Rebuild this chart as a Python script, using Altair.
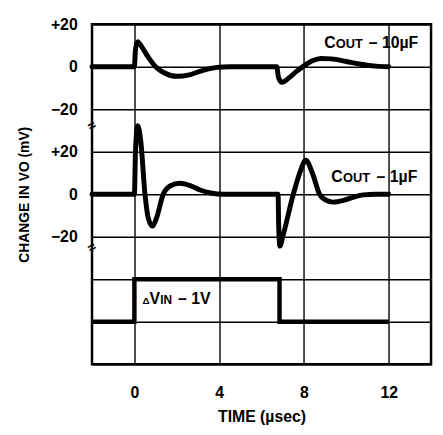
import altair as alt
import pandas as pd

FONT = "Liberation Sans, Arial, sans-serif"

# ---- data ----
# COUT = 10uF response (time in usec, change in mV)
t10 = [-2, 0.0, 0.05, 0.15, 0.4, 0.7, 1.0, 1.4, 2.0, 2.6, 3.2, 3.9, 4.5,
       6.72, 6.8, 6.96, 7.3, 7.65, 8.0, 8.4, 8.8, 9.3, 10.0, 10.7, 11.4, 12.0]
v10 = [0, 0, 8, 11.8, 8.5, 3.8, 0, -2.8, -4.5, -3.8, -1.8, -0.3, 0,
       0, -5, -7.3, -5.2, -2.2, 0.4, 2.8, 3.9, 3.7, 2.5, 1.2, 0.3, 0]

# COUT = 1uF response
t1 = [-2, 0.0, 0.05, 0.16, 0.3, 0.5, 0.65, 0.85, 1.05, 1.36, 1.7, 2.14, 2.6,
      3.1, 3.6, 4.2, 6.78, 6.81, 6.87, 7.0, 7.5, 7.8, 8.09, 8.4, 8.74, 9.0,
      9.37, 9.9, 10.4, 10.8, 11.4, 12.0]
v1 = [0, 0, 20, 32.3, 25, 0, -11, -15, -11, 0, 4, 5.2, 4.2,
      2.0, 0.6, 0, 0, -15, -24.4, -20, 0, 10, 16, 10, 0, -2.5,
      -3.7, -2.8, -1.2, -0.3, 0, 0]

# input step (volts)
t_step = [-2, 0, 0, 6.85, 6.85, 12]
vin = [0, 0, 1, 1, 0, 0]

# broken-axis layout: grid row of each panel's zero, mV per grid row
zero_row = {"10uF": 7, "1uF": 4}
mv_per_row = 20
vin_zero_row = 1

x_ticks = [0, 4, 8, 12]
y_rows = list(range(9))
y_labels = {8: "+20", 7: "0", 6: "\u221220", 5: "+20", 4: "0", 3: "\u221220"}
break_rows = [5.6, 2.74]

# annotation texts (start time, row, text, size)
ann_t = [8.96, 9.50, 11.06, 9.29, 9.85, 11.43, 0.38, 0.71, 1.22, 2.06]
ann_g = [7.44, 7.44, 7.44, 4.29, 4.29, 4.29, 1.42, 1.42, 1.42, 1.42]
ann_txt = ["C", "OUT", "\u2013 10\u00b5F", "C", "OUT", "\u2013 1\u00b5F",
           "\u0394", "V", "IN", "\u2013 1V"]
ann_fs = [16, 13, 16, 16, 13, 16, 10, 16, 12, 16]

# ---- build tables ----
rows = []
for name, ts, vs in (("10uF", t10, v10), ("1uF", t1, v1)):
    for i, (t, v) in enumerate(zip(ts, vs)):
        rows.append({"series": name, "idx": i, "t": t,
                     "g": zero_row[name] + v / mv_per_row})
curves = pd.DataFrame(rows)
step = pd.DataFrame({"idx": range(len(t_step)), "t": t_step,
                     "g": [vin_zero_row + v for v in vin]})
ann = pd.DataFrame({"t": ann_t, "g": ann_g, "txt": ann_txt, "fs": ann_fs})
brk = pd.DataFrame({"t": [-2] * len(break_rows), "g": break_rows})

label_expr = ""
for k, v in y_labels.items():
    label_expr += f"datum.value == {k} ? '{v}' : "
label_expr += "''"

X = alt.X("t:Q", scale=alt.Scale(domain=[-2, 14], nice=False, zero=False),
          axis=alt.Axis(values=x_ticks, title="TIME (\u00b5sec)", grid=True,
                        labelPadding=21, titlePadding=8, titleFontSize=16,
                        labelFlush=False, labelOverlap=False))
Y = alt.Y("g:Q", scale=alt.Scale(domain=[0, 8], nice=False, zero=False),
          axis=alt.Axis(values=y_rows, labelExpr=label_expr, grid=True,
                        title="CHANGE IN VO (mV)", labelPadding=15,
                        titlePadding=19, titleFontSize=14,
                        labelOverlap=False, labelFlush=False))

lines = alt.Chart(curves).mark_line(
    interpolate="monotone", strokeWidth=5, color="black",
    strokeCap="round", strokeJoin="round"
).encode(x=X, y=Y, detail="series:N", order="idx:Q")

step_line = alt.Chart(step).mark_line(
    interpolate="linear", strokeWidth=4.5, color="black"
).encode(x=X, y=Y, order="idx:Q")

texts = alt.Chart(ann).mark_text(
    align="left", baseline="alphabetic", font=FONT, fontWeight="bold",
    color="black"
).encode(x=X, y=Y, text="txt:N", size=alt.Size("fs:Q", scale=None))

breaks = alt.Chart(brk).mark_text(
    text="\u2248", align="center", baseline="middle", font=FONT,
    fontWeight="bold", fontSize=14, angle=330, color="black"
).encode(x=X, y=Y)

chart = alt.layer(lines, step_line, texts, breaks).properties(
    width=343, height=344,
    autosize=alt.AutoSizeParams(type="none"),
    padding={"left": 85, "top": 14, "right": 4, "bottom": 61},
    background="white",
).configure_view(
    stroke="black", strokeWidth=2.5
).configure_axis(
    gridColor="black", gridWidth=1.4, gridOpacity=1, domain=False,
    ticks=False, labelFont=FONT, labelFontWeight="bold", labelFontSize=16,
    labelColor="black", titleFont=FONT, titleFontWeight="bold",
    titleColor="black"
)

chart.save("out.html", embed_options={"renderer": "svg", "actions": False})
